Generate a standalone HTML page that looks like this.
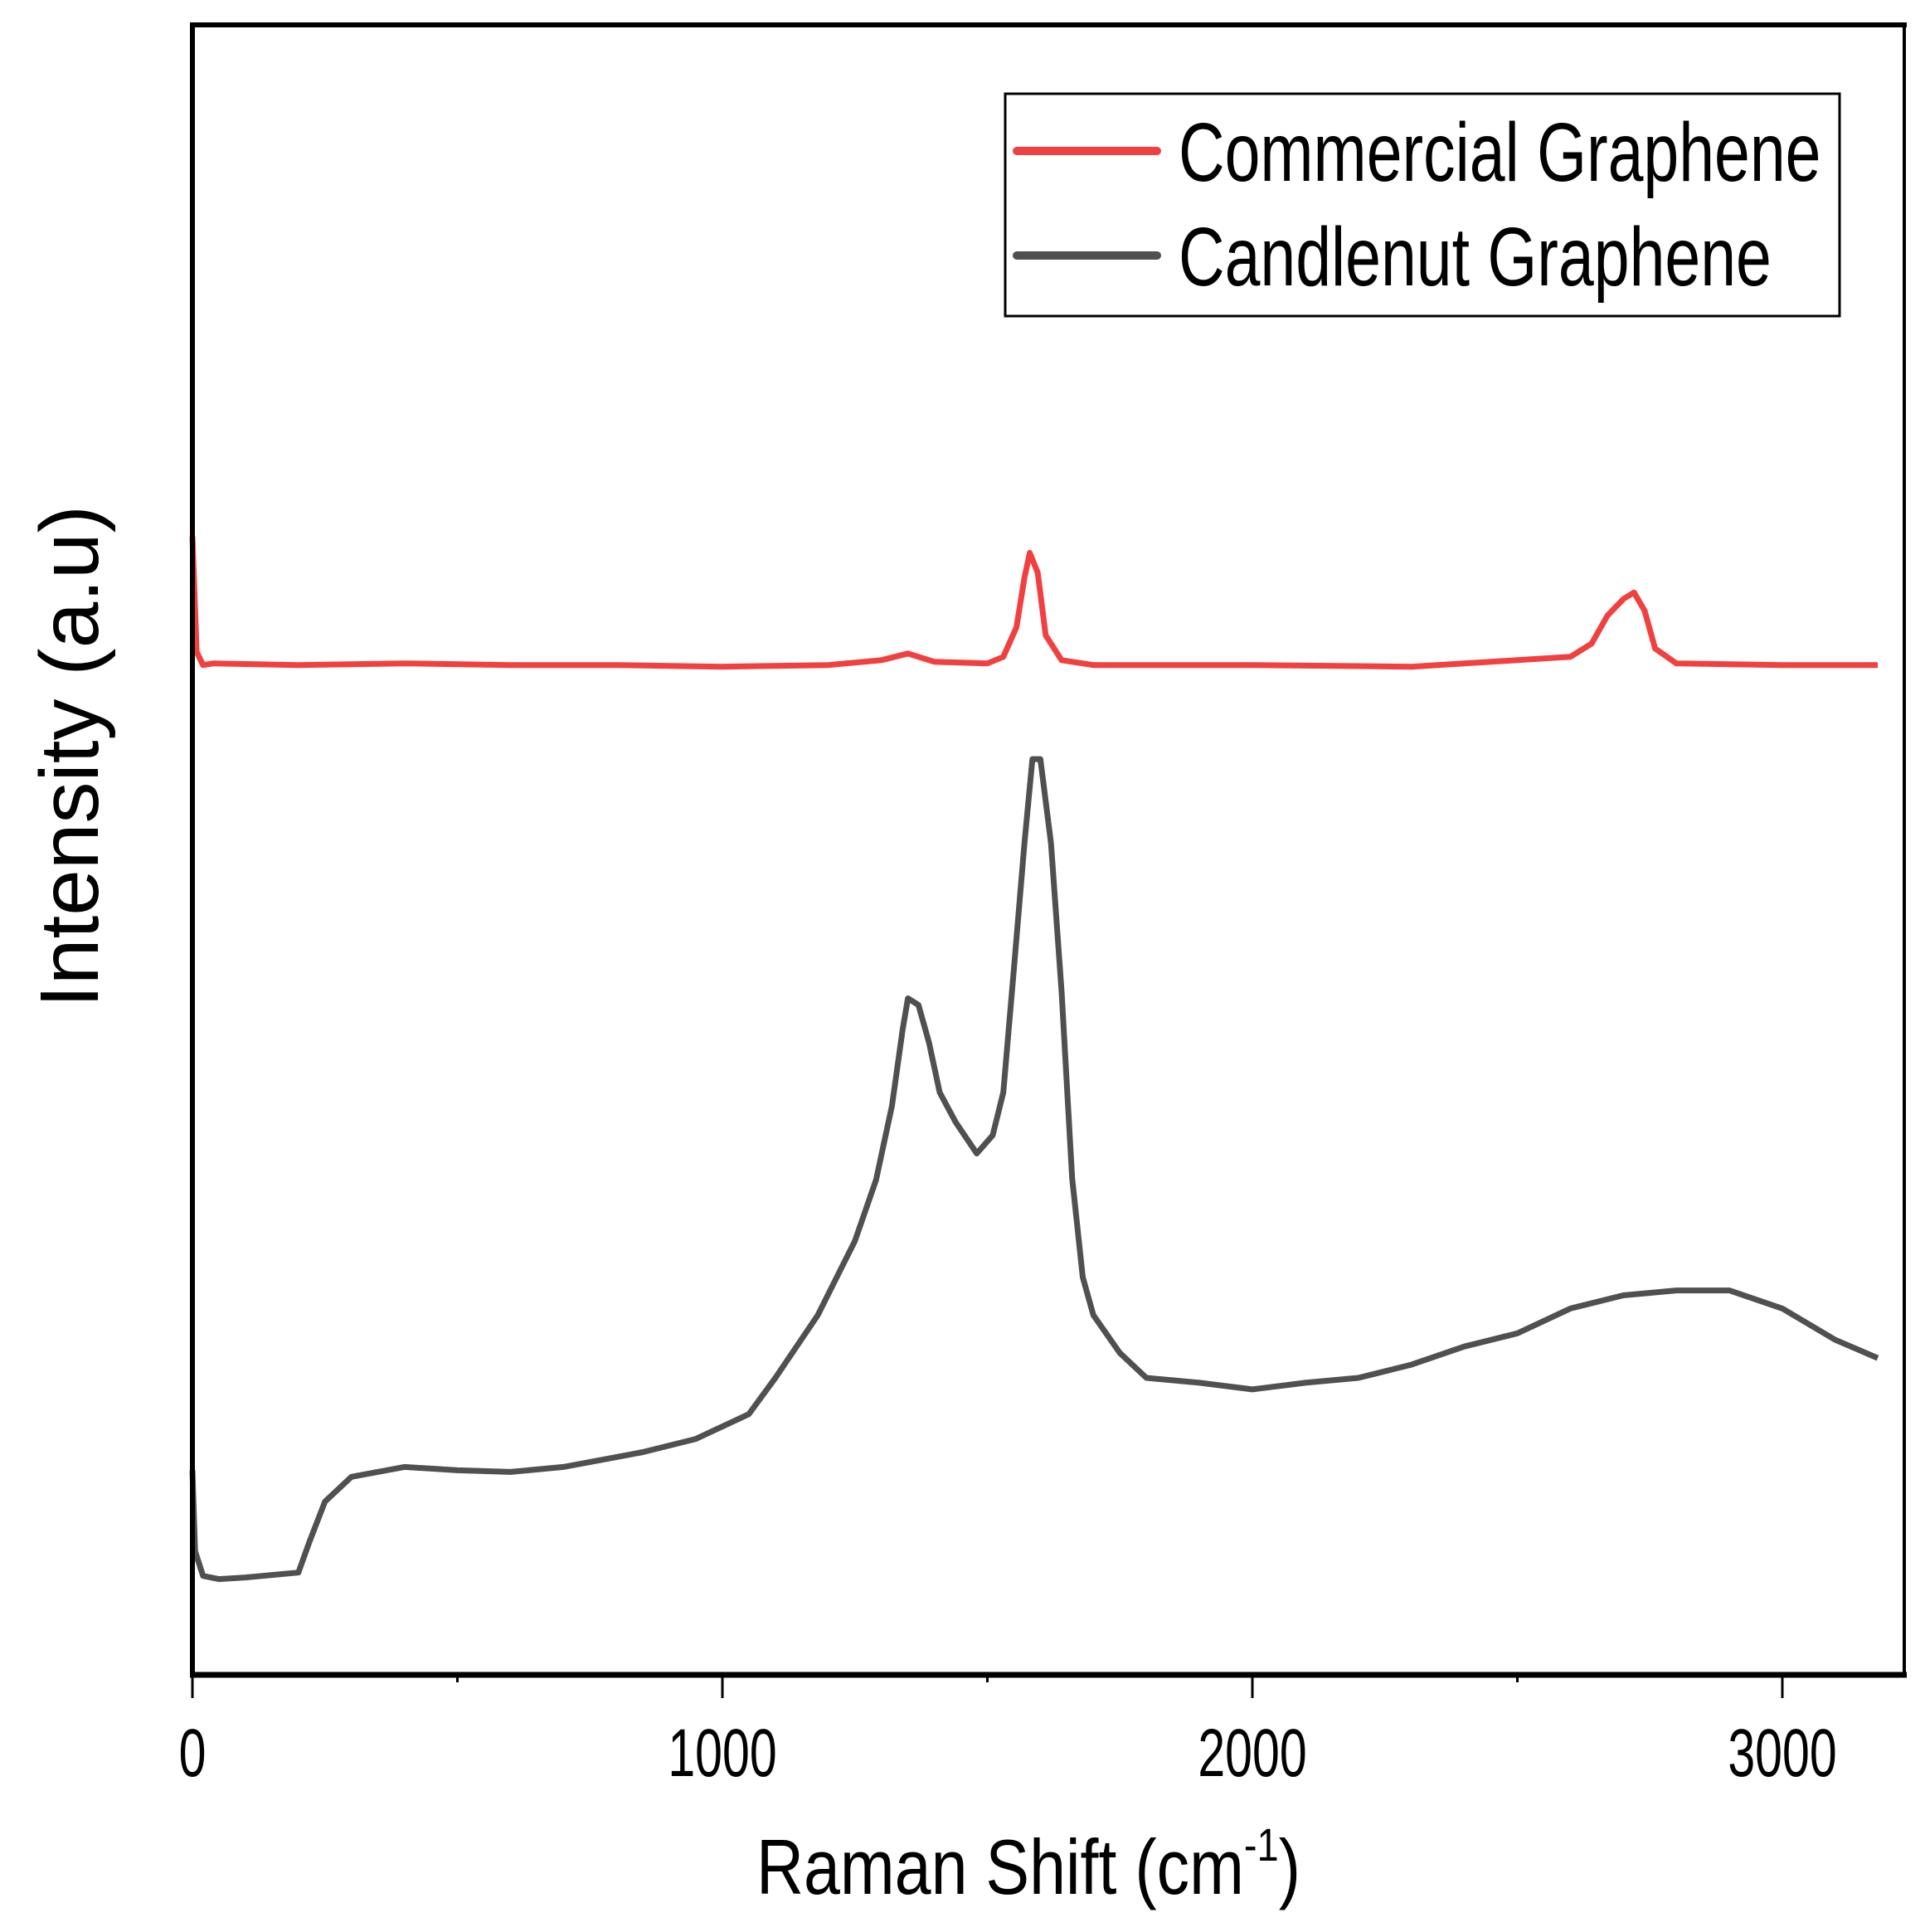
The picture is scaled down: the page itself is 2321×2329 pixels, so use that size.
<!DOCTYPE html>
<html><head><meta charset="utf-8"><style>
html,body{margin:0;padding:0;background:#fff;}
svg{display:block;}
text{font-family:"Liberation Sans",Arial,sans-serif;fill:#000;}
</style></head><body>
<svg id="chart" width="2321" height="2329" viewBox="0 0 2321 2329" xmlns="http://www.w3.org/2000/svg">
<g id="plot"></g>
<rect x="232" y="30" width="2064" height="1989" fill="none" stroke="#000" stroke-width="4"/>
<line x1="229" y1="2019" x2="2299" y2="2019" stroke="#000" stroke-width="7"/>
<line x1="232" y1="27" x2="232" y2="2022" stroke="#000" stroke-width="6"/>
<line x1="229" y1="30" x2="2299" y2="30" stroke="#000" stroke-width="6"/>
<g id="xticks"></g>
<text transform="translate(1240,2283) scale(0.84,1)" text-anchor="middle" font-size="94">Raman Shift (cm<tspan font-size="56" dy="-40">-1</tspan><tspan dy="40">)</tspan></text>
<text transform="translate(118,912) rotate(-90) scale(1.0,1)" text-anchor="middle" font-size="100">Intensity (a.u)</text>
<g>
<rect x="1212" y="113" width="1006" height="268" fill="#fff" stroke="#000" stroke-width="3"/>
<line x1="1226" y1="182" x2="1395" y2="182" stroke="#f04040" stroke-width="10" stroke-linecap="round"/>
<text transform="translate(1421,218) scale(0.77,1)" font-size="100">Commercial Graphene</text>
<line x1="1226" y1="308" x2="1395" y2="308" stroke="#505050" stroke-width="10" stroke-linecap="round"/>
<text transform="translate(1421,344) scale(0.77,1)" font-size="100">Candlenut Graphene</text>
</g>
</svg>
<script>
const xTicks=[0,1000,2000,3000];
const xMinorTicks=[500,1500,2500];
const commercialX=[0,8,20,40,200,400,600,800,1000,1200,1300,1350,1400,1500,1530,1555,1570,1580,1595,1610,1640,1700,2000,2300,2600,2640,2670,2700,2720,2740,2760,2800,3000,3180];
const commercialY=[69,62,61.2,61.3,61.2,61.3,61.2,61.2,61.1,61.2,61.5,61.9,61.4,61.3,61.7,63.5,66.5,68.0,66.8,63,61.5,61.2,61.2,61.1,61.7,62.5,64.2,65.2,65.6,64.5,62.2,61.3,61.2,61.2];
const candlenutX=[0,5,20,50,100,200,220,250,300,400,500,600,700,850,950,1050,1100,1180,1250,1290,1320,1340,1350,1370,1390,1410,1440,1480,1510,1530,1550,1570,1585,1600,1620,1640,1660,1680,1700,1750,1800,1900,2000,2100,2200,2300,2400,2500,2600,2700,2800,2900,3000,3100,3180];
const candlenutY=[12.4,7.5,6.0,5.8,5.9,6.2,8,10.5,12.0,12.6,12.4,12.3,12.6,13.5,14.3,15.8,18,21.8,26.3,30,34.5,39.1,41.0,40.6,38.3,35.3,33.5,31.6,32.7,35.3,42.8,50.4,55.5,55.5,50.4,41.4,30.1,24.1,21.8,19.5,18.0,17.7,17.3,17.7,18.0,18.8,19.9,20.7,22.2,23.0,23.3,23.3,22.2,20.3,19.2];
const X0=232,X1=2296,Y0=2019,Y1=30;
function sx(v){return X0+(v/3000)*(2149-X0);}
function sy(v){return Y0-(v/100)*(Y0-Y1);}
const NS="http://www.w3.org/2000/svg";
const plot=document.getElementById('plot');
function drawLine(xs,ys,color,name){
  const p=document.createElementNS(NS,'path');
  let d='';
  for(let i=0;i<xs.length;i++){d+=(i?'L':'M')+sx(xs[i]).toFixed(1)+','+sy(ys[i]).toFixed(1);}
  p.setAttribute('d',d);
  p.setAttribute('fill','none');
  p.setAttribute('stroke',color);
  p.setAttribute('stroke-width','7');
  p.setAttribute('stroke-linejoin','round');
  
  
  plot.appendChild(p);
}
drawLine(commercialX,commercialY,'#f04040','commercial-graphene-line');
drawLine(candlenutX,candlenutY,'#505050','candlenut-graphene-line');
const tg=document.getElementById('xticks');
xTicks.forEach(v=>{
  const l=document.createElementNS(NS,'line');
  l.setAttribute('x1',sx(v));l.setAttribute('x2',sx(v));
  l.setAttribute('y1',2019);l.setAttribute('y2',2047);
  l.setAttribute('stroke','#000');l.setAttribute('stroke-width','3');
  
  
  tg.appendChild(l);
  const t=document.createElementNS(NS,'text');
  t.setAttribute('transform','translate('+sx(v)+',2141) scale(0.72,1)');
  t.setAttribute('text-anchor','middle');
  t.setAttribute('font-size','82');
  t.textContent=v;
  
  
  tg.appendChild(t);
});
xMinorTicks.forEach(v=>{
  const l=document.createElementNS(NS,'line');
  l.setAttribute('x1',sx(v));l.setAttribute('x2',sx(v));
  l.setAttribute('y1',2019);l.setAttribute('y2',2028);
  l.setAttribute('stroke','#000');l.setAttribute('stroke-width','3');
  
  
  tg.appendChild(l);
});
</script>
</body></html>
